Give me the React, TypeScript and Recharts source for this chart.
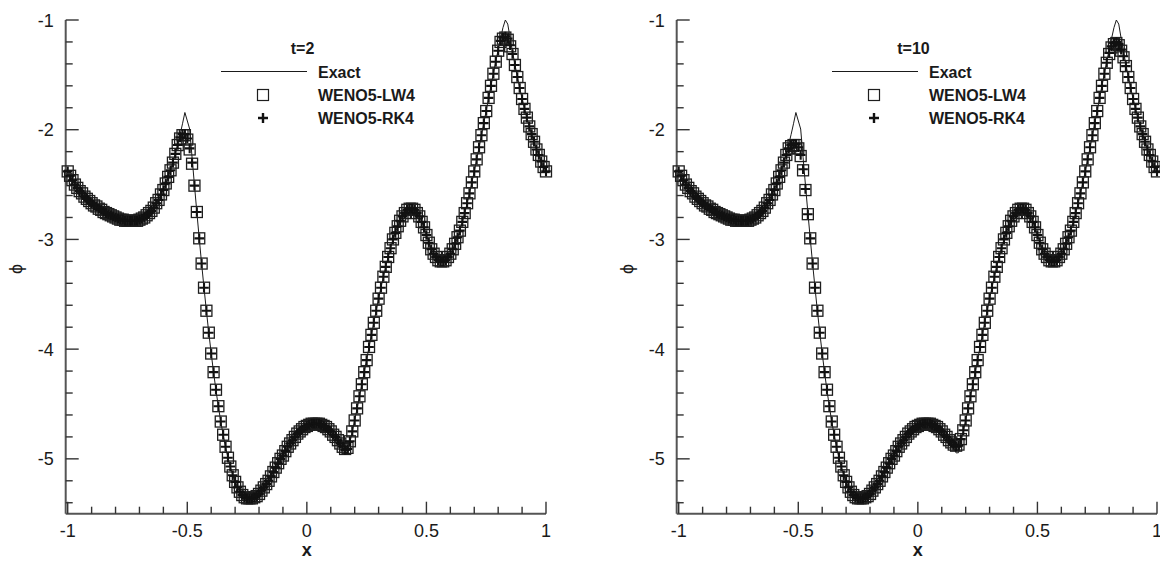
import React from 'react';
import { ComposedChart, Line, Scatter, XAxis, YAxis, Legend } from 'recharts';

// ---------- data ----------
const gridX = [
  -1, -0.99, -0.98, -0.97, -0.96, -0.95, -0.94, -0.93, -0.92, -0.91,
  -0.9, -0.89, -0.88, -0.87, -0.86, -0.85, -0.84, -0.83, -0.82, -0.81,
  -0.8, -0.79, -0.78, -0.77, -0.76, -0.75, -0.74, -0.73, -0.72, -0.71,
  -0.7, -0.69, -0.68, -0.67, -0.66, -0.65, -0.64, -0.63, -0.62, -0.61,
  -0.6, -0.59, -0.58, -0.57, -0.56, -0.55, -0.54, -0.53, -0.52, -0.51,
  -0.5, -0.49, -0.48, -0.47, -0.46, -0.45, -0.44, -0.43, -0.42, -0.41,
  -0.4, -0.39, -0.38, -0.37, -0.36, -0.35, -0.34, -0.33, -0.32, -0.31,
  -0.3, -0.29, -0.28, -0.27, -0.26, -0.25, -0.24, -0.23, -0.22, -0.21,
  -0.2, -0.19, -0.18, -0.17, -0.16, -0.15, -0.14, -0.13, -0.12, -0.11,
  -0.1, -0.09, -0.08, -0.07, -0.06, -0.05, -0.04, -0.03, -0.02, -0.01,
  0, 0.01, 0.02, 0.03, 0.04, 0.05, 0.06, 0.07, 0.08, 0.09,
  0.1, 0.11, 0.12, 0.13, 0.14, 0.15, 0.16, 0.17, 0.18, 0.19,
  0.2, 0.21, 0.22, 0.23, 0.24, 0.25, 0.26, 0.27, 0.28, 0.29,
  0.3, 0.31, 0.32, 0.33, 0.34, 0.35, 0.36, 0.37, 0.38, 0.39,
  0.4, 0.41, 0.42, 0.43, 0.44, 0.45, 0.46, 0.47, 0.48, 0.49,
  0.5, 0.51, 0.52, 0.53, 0.54, 0.55, 0.56, 0.57, 0.58, 0.59,
  0.6, 0.61, 0.62, 0.63, 0.64, 0.65, 0.66, 0.67, 0.68, 0.69,
  0.7, 0.71, 0.72, 0.73, 0.74, 0.75, 0.76, 0.77, 0.78, 0.79,
  0.8, 0.81, 0.82, 0.83, 0.84, 0.85, 0.86, 0.87, 0.88, 0.89,
  0.9, 0.91, 0.92, 0.93, 0.94, 0.95, 0.96, 0.97, 0.98, 0.99,
  1,
];

const exactPhi: (number | null)[] = [
  -2.381, -2.422, -2.46, -2.495, -2.526, -2.555, -2.582, -2.606, -2.629, -2.65,
  -2.669, -2.687, -2.703, -2.719, -2.733, -2.747, -2.759, -2.771, -2.782, -2.793,
  -2.802, -2.81, -2.818, -2.824, -2.829, -2.832, -2.834, -2.834, -2.831, -2.827,
  -2.82, -2.809, -2.796, -2.78, -2.759, -2.735, -2.707, -2.674, -2.636, -2.593,
  -2.545, -2.492, -2.432, -2.367, -2.296, -2.218, -2.134, -2.044, -1.946, -1.843,
  null, -1.994, -2.252, -2.506, -2.753, -2.992, -3.223, -3.443, -3.653, -3.852,
  -4.038, -4.213, -4.375, -4.524, -4.66, -4.782, -4.892, -4.989, -5.074, -5.147,
  -5.208, -5.259, -5.298, -5.328, -5.349, -5.361, -5.365, -5.362, -5.352, -5.337,
  -5.316, -5.291, -5.262, -5.23, -5.196, -5.159, -5.121, -5.083, -5.044, -5.005,
  -4.967, -4.93, -4.894, -4.861, -4.829, -4.8, -4.773, -4.749, -4.729, -4.711,
  -4.697, -4.686, -4.679, -4.675, -4.675, -4.679, -4.686, -4.697, -4.711, -4.729,
  -4.75, -4.775, -4.803, -4.834, -4.869, -4.906, -4.946, -4.944, -4.85, -4.752,
  -4.649, -4.543, -4.434, -4.322, -4.209, -4.095, -3.982, -3.869, -3.757, -3.648,
  -3.541, -3.439, -3.34, -3.247, -3.159, -3.078, -3.004, -2.937, -2.878, -2.828,
  -2.787, -2.756, -2.735, -2.724, -2.723, -2.734, -2.756, -2.79, -2.835, -2.892,
  -2.96, -3.029, -3.086, -3.131, -3.165, -3.187, -3.197, -3.197, -3.186, -3.165,
  -3.134, -3.093, -3.043, -2.984, -2.917, -2.843, -2.762, -2.674, -2.581, -2.482,
  -2.38, -2.273, -2.164, -2.052, -1.939, -1.826, -1.712, -1.599, -1.487, -1.378,
  -1.271, -1.169, -1.07, -1.0, -1.037, -1.167, -1.29, -1.406, -1.516, -1.619,
  -1.716, -1.807, -1.892, -1.971, -2.044, -2.112, -2.175, -2.233, -2.287, -2.336,
  -2.381,
];

const lw4T2 = [
  -2.38, -2.42, -2.46, -2.5, -2.53, -2.56, -2.58, -2.61, -2.63, -2.65,
  -2.67, -2.69, -2.7, -2.72, -2.73, -2.75, -2.76, -2.77, -2.78, -2.79,
  -2.8, -2.81, -2.82, -2.82, -2.83, -2.83, -2.83, -2.83, -2.83, -2.83,
  -2.82, -2.81, -2.8, -2.78, -2.76, -2.74, -2.71, -2.67, -2.64, -2.59,
  -2.55, -2.49, -2.43, -2.37, -2.3, -2.22, -2.14, -2.08, -2.05, -2.05,
  -2.09, -2.18, -2.31, -2.51, -2.75, -2.99, -3.22, -3.44, -3.65, -3.85,
  -4.04, -4.21, -4.37, -4.52, -4.66, -4.78, -4.89, -4.99, -5.07, -5.15,
  -5.21, -5.26, -5.3, -5.33, -5.35, -5.36, -5.36, -5.36, -5.35, -5.34,
  -5.32, -5.29, -5.26, -5.23, -5.2, -5.16, -5.12, -5.08, -5.04, -5.0,
  -4.97, -4.93, -4.89, -4.86, -4.83, -4.8, -4.77, -4.75, -4.73, -4.71,
  -4.7, -4.69, -4.68, -4.68, -4.68, -4.68, -4.69, -4.7, -4.71, -4.73,
  -4.75, -4.78, -4.8, -4.83, -4.86, -4.89, -4.91, -4.9, -4.84, -4.75,
  -4.65, -4.54, -4.43, -4.32, -4.21, -4.1, -3.98, -3.87, -3.76, -3.65,
  -3.54, -3.44, -3.34, -3.25, -3.16, -3.08, -3.0, -2.94, -2.88, -2.83,
  -2.79, -2.76, -2.73, -2.72, -2.72, -2.73, -2.76, -2.79, -2.84, -2.89,
  -2.96, -3.03, -3.09, -3.13, -3.16, -3.19, -3.2, -3.2, -3.19, -3.16,
  -3.13, -3.09, -3.04, -2.98, -2.92, -2.84, -2.76, -2.67, -2.58, -2.48,
  -2.38, -2.27, -2.16, -2.05, -1.94, -1.83, -1.71, -1.6, -1.49, -1.38,
  -1.28, -1.2, -1.17, -1.16, -1.18, -1.24, -1.31, -1.41, -1.52, -1.62,
  -1.72, -1.81, -1.89, -1.97, -2.04, -2.11, -2.18, -2.23, -2.29, -2.34,
  -2.38,
];

const rk4T2 = [
  -2.38, -2.42, -2.46, -2.5, -2.53, -2.56, -2.58, -2.61, -2.63, -2.65,
  -2.67, -2.69, -2.7, -2.72, -2.73, -2.75, -2.76, -2.77, -2.78, -2.79,
  -2.8, -2.81, -2.82, -2.82, -2.83, -2.83, -2.83, -2.83, -2.83, -2.83,
  -2.82, -2.81, -2.8, -2.78, -2.76, -2.74, -2.71, -2.67, -2.64, -2.59,
  -2.55, -2.49, -2.43, -2.37, -2.3, -2.22, -2.14, -2.07, -2.04, -2.04,
  -2.08, -2.17, -2.3, -2.51, -2.75, -2.99, -3.22, -3.44, -3.65, -3.85,
  -4.04, -4.21, -4.37, -4.52, -4.66, -4.78, -4.89, -4.99, -5.07, -5.15,
  -5.21, -5.26, -5.3, -5.33, -5.35, -5.36, -5.36, -5.36, -5.35, -5.34,
  -5.32, -5.29, -5.26, -5.23, -5.2, -5.16, -5.12, -5.08, -5.04, -5.0,
  -4.97, -4.93, -4.89, -4.86, -4.83, -4.8, -4.77, -4.75, -4.73, -4.71,
  -4.7, -4.69, -4.68, -4.68, -4.68, -4.68, -4.69, -4.7, -4.71, -4.73,
  -4.75, -4.78, -4.8, -4.83, -4.86, -4.89, -4.92, -4.91, -4.84, -4.75,
  -4.65, -4.54, -4.43, -4.32, -4.21, -4.1, -3.98, -3.87, -3.76, -3.65,
  -3.54, -3.44, -3.34, -3.25, -3.16, -3.08, -3.0, -2.94, -2.88, -2.83,
  -2.79, -2.76, -2.73, -2.72, -2.72, -2.73, -2.76, -2.79, -2.84, -2.89,
  -2.96, -3.03, -3.09, -3.13, -3.16, -3.19, -3.2, -3.2, -3.19, -3.16,
  -3.13, -3.09, -3.04, -2.98, -2.92, -2.84, -2.76, -2.67, -2.58, -2.48,
  -2.38, -2.27, -2.16, -2.05, -1.94, -1.83, -1.71, -1.6, -1.49, -1.38,
  -1.28, -1.19, -1.16, -1.15, -1.17, -1.23, -1.31, -1.41, -1.52, -1.62,
  -1.72, -1.81, -1.89, -1.97, -2.04, -2.11, -2.18, -2.23, -2.29, -2.34,
  -2.38,
];

const lw4T10 = [
  -2.38, -2.42, -2.46, -2.5, -2.53, -2.56, -2.58, -2.61, -2.63, -2.65,
  -2.67, -2.69, -2.7, -2.72, -2.73, -2.75, -2.76, -2.77, -2.78, -2.79,
  -2.8, -2.81, -2.82, -2.82, -2.83, -2.83, -2.83, -2.83, -2.83, -2.83,
  -2.82, -2.81, -2.8, -2.78, -2.76, -2.74, -2.71, -2.67, -2.64, -2.59,
  -2.55, -2.49, -2.43, -2.37, -2.3, -2.23, -2.17, -2.15, -2.14, -2.14,
  -2.17, -2.24, -2.37, -2.55, -2.77, -2.99, -3.22, -3.44, -3.65, -3.85,
  -4.04, -4.21, -4.37, -4.52, -4.66, -4.78, -4.89, -4.99, -5.07, -5.15,
  -5.21, -5.26, -5.3, -5.33, -5.35, -5.36, -5.36, -5.36, -5.35, -5.34,
  -5.32, -5.29, -5.26, -5.23, -5.2, -5.16, -5.12, -5.08, -5.04, -5.0,
  -4.97, -4.93, -4.89, -4.86, -4.83, -4.8, -4.77, -4.75, -4.73, -4.71,
  -4.7, -4.69, -4.68, -4.68, -4.68, -4.68, -4.69, -4.7, -4.71, -4.73,
  -4.75, -4.78, -4.8, -4.83, -4.85, -4.87, -4.88, -4.87, -4.82, -4.74,
  -4.65, -4.54, -4.43, -4.32, -4.21, -4.1, -3.98, -3.87, -3.76, -3.65,
  -3.54, -3.44, -3.34, -3.25, -3.16, -3.08, -3.0, -2.94, -2.88, -2.83,
  -2.79, -2.76, -2.73, -2.72, -2.72, -2.73, -2.76, -2.79, -2.84, -2.89,
  -2.96, -3.03, -3.09, -3.13, -3.16, -3.19, -3.2, -3.2, -3.19, -3.16,
  -3.13, -3.09, -3.04, -2.98, -2.92, -2.84, -2.76, -2.67, -2.58, -2.48,
  -2.38, -2.27, -2.16, -2.05, -1.94, -1.83, -1.71, -1.6, -1.49, -1.39,
  -1.31, -1.25, -1.22, -1.21, -1.23, -1.28, -1.34, -1.42, -1.52, -1.62,
  -1.72, -1.81, -1.89, -1.97, -2.04, -2.11, -2.18, -2.23, -2.29, -2.34,
  -2.38,
];

const rk4T10 = [
  -2.38, -2.42, -2.46, -2.5, -2.53, -2.56, -2.58, -2.61, -2.63, -2.65,
  -2.67, -2.69, -2.7, -2.72, -2.73, -2.75, -2.76, -2.77, -2.78, -2.79,
  -2.8, -2.81, -2.82, -2.82, -2.83, -2.83, -2.83, -2.83, -2.83, -2.83,
  -2.82, -2.81, -2.8, -2.78, -2.76, -2.74, -2.71, -2.67, -2.64, -2.59,
  -2.55, -2.49, -2.43, -2.37, -2.3, -2.23, -2.17, -2.14, -2.13, -2.13,
  -2.16, -2.23, -2.36, -2.54, -2.77, -2.99, -3.22, -3.44, -3.65, -3.85,
  -4.04, -4.21, -4.37, -4.52, -4.66, -4.78, -4.89, -4.99, -5.07, -5.15,
  -5.21, -5.26, -5.3, -5.33, -5.35, -5.36, -5.36, -5.36, -5.35, -5.34,
  -5.32, -5.29, -5.26, -5.23, -5.2, -5.16, -5.12, -5.08, -5.04, -5.0,
  -4.97, -4.93, -4.89, -4.86, -4.83, -4.8, -4.77, -4.75, -4.73, -4.71,
  -4.7, -4.69, -4.68, -4.68, -4.68, -4.68, -4.69, -4.7, -4.71, -4.73,
  -4.75, -4.78, -4.8, -4.83, -4.85, -4.87, -4.89, -4.88, -4.82, -4.74,
  -4.65, -4.54, -4.43, -4.32, -4.21, -4.1, -3.98, -3.87, -3.76, -3.65,
  -3.54, -3.44, -3.34, -3.25, -3.16, -3.08, -3.0, -2.94, -2.88, -2.83,
  -2.79, -2.76, -2.73, -2.72, -2.72, -2.73, -2.76, -2.79, -2.84, -2.89,
  -2.96, -3.03, -3.09, -3.13, -3.16, -3.19, -3.2, -3.2, -3.19, -3.16,
  -3.13, -3.09, -3.04, -2.98, -2.92, -2.84, -2.76, -2.67, -2.58, -2.48,
  -2.38, -2.27, -2.16, -2.05, -1.94, -1.83, -1.71, -1.6, -1.49, -1.39,
  -1.3, -1.24, -1.21, -1.2, -1.22, -1.27, -1.33, -1.42, -1.52, -1.62,
  -1.72, -1.81, -1.89, -1.97, -2.04, -2.11, -2.18, -2.23, -2.29, -2.34,
  -2.38,
];

const xTicks = [-1, -0.9, -0.8, -0.7, -0.6, -0.5, -0.4, -0.3, -0.2, -0.1, 0, 0.1, 0.2, 0.3, 0.4, 0.5, 0.6, 0.7, 0.8, 0.9, 1];
const xMajor = [-1, -0.5, 0, 0.5, 1];
const xMajorLabels = ['-1', '-0.5', '0', '0.5', '1'];
const yTicks = [-5.4, -5.2, -5, -4.8, -4.6, -4.4, -4.2, -4, -3.8, -3.6, -3.4, -3.2, -3, -2.8, -2.6, -2.4, -2.2, -2, -1.8, -1.6, -1.4, -1.2, -1];
const yMajor = [-5, -4, -3, -2, -1];
const yMajorLabels = ['-5', '-4', '-3', '-2', '-1'];
const seriesNames = ['Exact', 'WENO5-LW4', 'WENO5-RK4'];
const panelTitles = ['t=2', 't=10'];

// ---------- style ----------
const FONT = "'Liberation Sans', Arial, Helvetica, sans-serif";
const AXIS = '#555';
const TICK = '#333';
const INK = '#1a1a1a';
const W = 580;
const H = 562;
// plot area: left 65.7, top 20, right 546, bottom 513.7
const MARGIN = { top: 20, right: 34, bottom: 47.3, left: 64.7 };

const near = (a: number, b: number) => Math.abs(a - b) < 1e-6;

const XTick = (props: any) => {
  const { x, y, payload } = props;
  const k = xMajor.findIndex((m) => near(m, payload.value));
  const major = k >= 0;
  return (
    <g>
      <line x1={x} x2={x} y1={y} y2={y - (major ? 12 : 7)} stroke={TICK} strokeWidth={1.4} />
      {major && (
        <text x={x} y={y + 23} textAnchor="middle" fontSize={18} fill={INK} fontFamily={FONT}>
          {xMajorLabels[k]}
        </text>
      )}
    </g>
  );
};

const YTick = (props: any) => {
  const { x, y, payload } = props;
  const k = yMajor.findIndex((m) => near(m, payload.value));
  const major = k >= 0;
  return (
    <g>
      <line x1={x} x2={x + (major ? 13 : 7)} y1={y} y2={y} stroke={TICK} strokeWidth={1.4} />
      {major && (
        <text x={x - 12} y={y + 6.5} textAnchor="end" fontSize={18} fill={INK} fontFamily={FONT}>
          {yMajorLabels[k]}
        </text>
      )}
    </g>
  );
};

const XTitle = (props: any) => {
  const vb = props.viewBox || { x: 65.7, y: 513.7, width: 480.3, height: 1 };
  return (
    <text x={vb.x + 0.5 * vb.width + 1} y={vb.y + 42} textAnchor="middle" fontSize={18} fontWeight="bold" fill={INK} fontFamily={FONT}>
      x
    </text>
  );
};

const YTitle = (props: any) => {
  const vb = props.viewBox || { x: 64.7, y: 20, width: 1, height: 493.7 };
  const cx = vb.x + vb.width - 50;
  const cy = vb.y + 0.5 * vb.height + 2;
  return (
    <text x={cx} y={cy} transform={`rotate(-90 ${cx} ${cy})`} dy="0.35em" textAnchor="middle" fontSize={18} fill={INK} fontFamily={FONT}>
      ϕ
    </text>
  );
};

const SquareMark = (p: any) => {
  if (p.cx == null || p.cy == null) return <g />;
  return <rect x={p.cx - 5.5} y={p.cy - 5.5} width={11} height={11} fill="none" stroke="#1e1e1e" strokeWidth={1.3} />;
};

const PlusMark = (p: any) => {
  if (p.cx == null || p.cy == null) return <g />;
  return (
    <path
      d={`M${p.cx - 4.8},${p.cy}H${p.cx + 4.8}M${p.cx},${p.cy - 4.8}V${p.cy + 4.8}`}
      stroke="#111"
      strokeWidth={2.1}
      fill="none"
    />
  );
};

const LegendBox = ({ title }: { title: string }) => (
  <svg width={W} height={140} style={{ display: 'block' }}>
    <g fontFamily={FONT} fontWeight="bold" fontSize={16} fill={INK}>
      <text x={302.5} y={54} textAnchor="middle">{title}</text>
      <line x1={221} x2={307} y1={71.5} y2={71.5} stroke={INK} strokeWidth={1} />
      <text x={318} y={77.5}>{seriesNames[0]}</text>
      <rect x={257.5} y={89.5} width={11} height={11} fill="none" stroke="#1e1e1e" strokeWidth={1.2} />
      <text x={318} y={101}>{seriesNames[1]}</text>
      <path d="M258,118H268M263,113V123" stroke="#111" strokeWidth={2.4} />
      <text x={318} y={124}>{seriesNames[2]}</text>
    </g>
  </svg>
);

function Panel({ title, lw4, rk4, left }: { title: string; lw4: number[]; rk4: number[]; left: number }) {
  const exactData = gridX.map((x, i) => ({ x, phi: exactPhi[i] }));
  const lwData = gridX.map((x, i) => ({ x, phi: lw4[i] }));
  const rkData = gridX.map((x, i) => ({ x, phi: rk4[i] }));
  return (
    <div style={{ position: 'absolute', left, top: 0, width: W, height: H }}>
      <ComposedChart width={W} height={H} margin={MARGIN}>
        <XAxis
          type="number"
          dataKey="x"
          domain={[-1.0084, 1]}
          ticks={xTicks}
          interval={0}
          tickSize={0}
          tickMargin={0}
          tickLine={false}
          height={1}
          axisLine={{ stroke: AXIS, strokeWidth: 2 }}
          tick={<XTick />}
          label={<XTitle />}
        />
        <YAxis
          type="number"
          dataKey="phi"
          domain={[-5.5, -1]}
          ticks={yTicks}
          interval={0}
          tickSize={0}
          tickMargin={0}
          tickLine={false}
          width={1}
          axisLine={{ stroke: AXIS, strokeWidth: 2 }}
          tick={<YTick />}
          label={<YTitle />}
        />
        <Line
          data={exactData}
          dataKey="phi"
          name={seriesNames[0]}
          type="linear"
          stroke={INK}
          strokeWidth={1}
          dot={false}
          activeDot={false}
          connectNulls
          isAnimationActive={false}
        />
        <Scatter data={lwData} dataKey="phi" name={seriesNames[1]} shape={SquareMark} isAnimationActive={false} />
        <Scatter data={rkData} dataKey="phi" name={seriesNames[2]} shape={PlusMark} isAnimationActive={false} />
        <Legend
          layout="horizontal"
          verticalAlign="middle"
          align="center"
          wrapperStyle={{ left: 0, top: 0, width: W, height: 140, pointerEvents: 'none' }}
          content={() => <LegendBox title={title} />}
        />
      </ComposedChart>
    </div>
  );
}

export default function App() {
  return (
    <div style={{ position: 'absolute', left: 0, top: 0, width: 1160, height: 562, overflow: 'hidden', background: '#fff' }}>
      <Panel title={panelTitles[0]} lw4={lw4T2} rk4={rk4T2} left={0} />
      <Panel title={panelTitles[1]} lw4={lw4T10} rk4={rk4T10} left={611} />
    </div>
  );
}
